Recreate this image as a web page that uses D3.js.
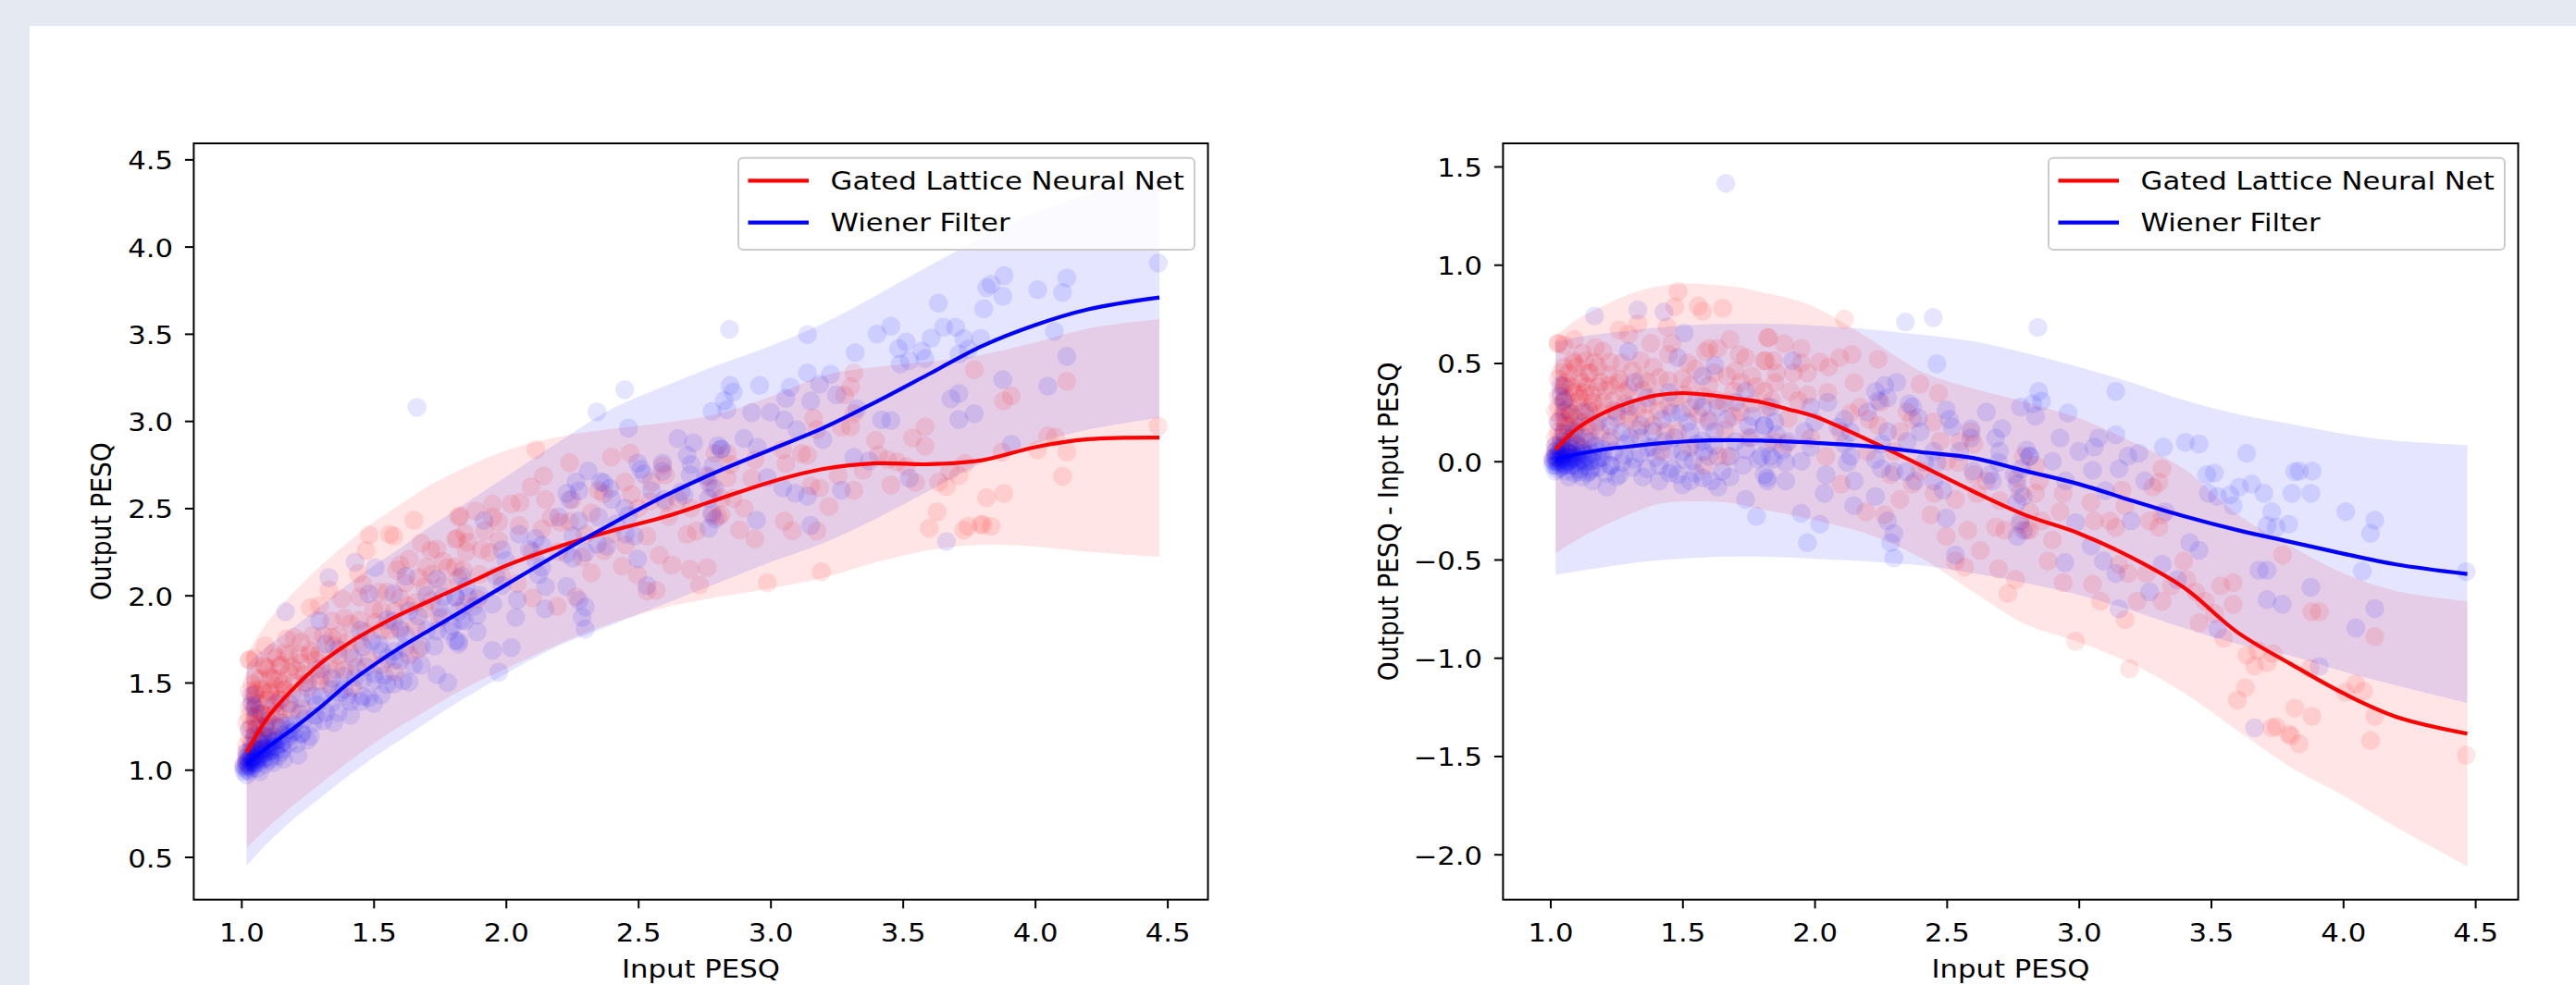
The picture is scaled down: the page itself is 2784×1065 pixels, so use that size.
<!DOCTYPE html>
<html>
<head>
<meta charset="utf-8">
<script src="https://cdn.jsdelivr.net/npm/d3@7"></script>
<style>
  html, body { margin: 0; padding: 0; overflow: hidden; background: #e5e9f2; }
  svg { display: block; }
</style>
</head>
<body>
<svg id="chart" width="2784" height="1065"></svg>
<script>
// GLNN vs Wiener filter, PESQ scatter with smoothed fits

// sample inputs where the fitted curves were read
const curve_x = [1.02, 1.1, 1.2, 1.3, 1.4, 1.5, 1.6, 1.7, 1.8, 1.9, 2.0, 2.2, 2.4, 2.6, 2.8, 3.0, 3.2, 3.4, 3.6, 3.8, 4.0, 4.2, 4.47];

// left panel: output PESQ fits
const glnn_out_mean = [1.10, 1.30, 1.47, 1.61, 1.72, 1.81, 1.89, 1.96, 2.03, 2.10, 2.17, 2.28, 2.37, 2.45, 2.55, 2.65, 2.725, 2.757, 2.752, 2.775, 2.85, 2.895, 2.905];
const glnn_out_lo = [0.55, 0.67, 0.80, 0.92, 1.04, 1.15, 1.25, 1.34, 1.43, 1.51, 1.58, 1.72, 1.84, 1.93, 1.99, 2.04, 2.10, 2.19, 2.26, 2.29, 2.28, 2.25, 2.22];
const glnn_out_hi = [1.66, 1.85, 2.02, 2.17, 2.30, 2.42, 2.52, 2.62, 2.70, 2.77, 2.83, 2.91, 2.955, 2.99, 3.04, 3.14, 3.26, 3.31, 3.34, 3.38, 3.45, 3.53, 3.584];
const wiener_out_mean = [1.03, 1.13, 1.24, 1.36, 1.49, 1.60, 1.70, 1.79, 1.88, 1.97, 2.06, 2.24, 2.41, 2.57, 2.71, 2.835, 2.96, 3.11, 3.27, 3.43, 3.55, 3.64, 3.708];
const wiener_out_lo = [0.45, 0.58, 0.72, 0.84, 0.96, 1.07, 1.17, 1.27, 1.37, 1.46, 1.55, 1.71, 1.83, 1.95, 2.07, 2.19, 2.30, 2.44, 2.60, 2.76, 2.87, 2.95, 3.018];
const wiener_out_hi = [1.60, 1.71, 1.82, 1.94, 2.06, 2.17, 2.27, 2.38, 2.48, 2.58, 2.68, 2.88, 3.07, 3.20, 3.32, 3.43, 3.56, 3.72, 3.89, 4.05, 4.19, 4.30, 4.40];

// right panel: output - input fits
const glnn_gain_mean = [0.06, 0.165, 0.245, 0.30, 0.335, 0.347, 0.337, 0.32, 0.30, 0.265, 0.228, 0.11, -0.02, -0.153, -0.275, -0.367, -0.49, -0.645, -0.87, -1.03, -1.18, -1.30, -1.386];
const glnn_gain_lo = [-0.469, -0.40, -0.33, -0.27, -0.22, -0.205, -0.205, -0.215, -0.245, -0.27, -0.30, -0.37, -0.49, -0.665, -0.83, -0.92, -1.03, -1.18, -1.37, -1.555, -1.70, -1.86, -2.061];
const glnn_gain_hi = [0.637, 0.72, 0.79, 0.85, 0.888, 0.904, 0.90, 0.888, 0.86, 0.83, 0.785, 0.63, 0.46, 0.37, 0.30, 0.22, 0.10, -0.04, -0.27, -0.43, -0.57, -0.66, -0.712];
const wiener_gain_mean = [0.01, 0.035, 0.06, 0.075, 0.09, 0.10, 0.106, 0.107, 0.105, 0.10, 0.094, 0.077, 0.047, 0.017, -0.05, -0.116, -0.20, -0.28, -0.35, -0.41, -0.47, -0.525, -0.574];
const wiener_gain_lo = [-0.579, -0.56, -0.54, -0.52, -0.505, -0.495, -0.488, -0.485, -0.485, -0.49, -0.497, -0.51, -0.53, -0.57, -0.62, -0.68, -0.76, -0.85, -0.93, -0.99, -1.07, -1.14, -1.23];
const wiener_gain_hi = [0.606, 0.63, 0.65, 0.665, 0.68, 0.69, 0.697, 0.70, 0.70, 0.697, 0.69, 0.672, 0.645, 0.61, 0.55, 0.48, 0.40, 0.31, 0.24, 0.19, 0.14, 0.105, 0.083];

// utterances: [input PESQ, output PESQ - input PESQ]
const glnn_points = [
  [1.02,0.05],[1.02,0.12],[1.03,0.2],[1.03,0.28],[1.04,0.35],[1.03,0.42],[1.05,0.15],[1.05,0.25],[1.06,0.32],[1.04,0.08],
  [1.06,0.05],[1.07,0.18],[1.07,0.27],[1.08,0.38],[1.08,0.1],[1.09,0.22],[1.1,0.3],[1.1,0.14],[1.11,0.42],[1.12,0.25],
  [1.12,0.06],[1.03,0.6],[1.05,0.48],[1.09,0.5],[1.13,0.35],[1.14,0.18],[1.15,0.45],[1.16,0.3],[1.02,0.02],[1.04,0.03],
  [1.06,0.12],[1.08,0.03],[1.1,0.08],[1.05,0.38],[1.07,0.45],[1.11,0.2],[1.13,0.12],[1.04,0.22],[1.06,0.2],[1.09,0.35],
  [1.01,0.02],[1.02,0.08],[1.03,0.15],[1.02,0.25],[1.04,0.12],[1.05,0.3],[1.06,0.18],[1.07,0.1],[1.08,0.24],[1.09,0.16],
  [1.03,0.33],[1.11,0.32],[1.12,0.4],[1.04,0.45],[1.06,0.4],[1.1,0.48],[1.13,0.2],[1.15,0.1],[1.17,0.18],[1.18,0.38],
  [1.483,0.864],[1.471,0.786],[1.576,0.763],[1.652,0.779],[1.261,0.668],[1.331,0.70],[1.442,0.684],[1.296,0.645],[1.051,0.59],[1.60,0.574],
  [1.634,0.574],[1.821,0.629],[1.167,0.504],[1.226,0.504],[1.342,0.512],[1.447,0.543],[1.587,0.558],[1.739,0.527],[1.809,0.512],[1.845,0.512],
  [1.086,0.512],[1.132,0.512],[1.144,0.449],[1.191,0.402],[1.261,0.417],[1.342,0.417],[1.412,0.425],[1.447,0.41],[1.529,0.386],[1.669,0.433],
  [1.763,0.433],[1.051,0.386],[1.109,0.339],[1.156,0.339],[1.167,0.292],[1.226,0.386],[1.296,0.37],[1.366,0.402],[1.506,0.339],[1.60,0.386],
  [1.693,0.355],[1.809,0.355],[1.074,0.245],[1.144,0.26],[1.191,0.245],[1.238,0.308],[1.284,0.292],[1.366,0.292],[1.482,0.15],[1.529,0.072],
  [1.634,0.025],[1.669,0.025],[1.716,0.543],[1.296,0.213],[1.389,0.182],[1.436,0.15],[1.60,0.213],[1.693,0.229],[1.763,0.292],[1.821,0.276],
  [1.03,0.6],[1.56,0.79],[1.2,0.56],[1.38,0.6],[1.55,0.47],[1.7,0.46],[1.25,0.22],[1.33,0.16],[1.56,0.24],[1.66,0.16],
  [1.75,0.12],[1.42,0.05],[1.58,-0.02],
  [1.12,0.55],[1.18,0.48],[1.22,0.44],[1.27,0.5],[1.31,0.46],[1.35,0.36],[1.4,0.33],[1.45,0.28],[1.5,0.42],[1.52,0.5],
  [1.62,0.45],[1.66,0.3],[1.72,0.4],[1.78,0.38],[1.85,0.4],[1.2,0.3],[1.24,0.26],[1.3,0.24],[1.36,0.22],[1.41,0.26],
  [1.47,0.32],[1.53,0.27],[1.58,0.33],[1.63,0.31],[1.72,0.25],[1.14,0.38],[1.19,0.15],[1.23,0.12],[1.28,0.35],[1.33,0.27],
  [1.15,0.25],[1.21,0.36],[1.26,0.4],[1.17,0.58],[1.09,0.62],[1.39,0.48],[1.46,0.6],[1.68,0.62],[1.9,0.22],[1.95,0.5],
  [2.113,0.723],[1.827,0.629],[1.885,0.598],[1.949,0.574],[1.815,0.512],[1.856,0.449],[1.92,0.449],[1.973,0.449],[2.02,0.504],[2.054,0.48],
  [2.095,0.527],[2.142,0.543],[2.241,0.519],[2.399,0.393],[2.469,0.346],[1.908,0.355],[1.838,0.308],[1.938,0.308],[1.973,0.339],[2.171,0.276],
  [2.206,0.213],[2.241,0.182],[2.136,0.245],[2.37,0.213],[2.475,0.103],[2.592,0.15],[2.603,0.088],[2.545,-0.006],[2.603,-0.069],[2.615,-0.163],
  [2.58,-0.351],[2.627,-0.453],[2.533,-0.508],[2.568,-0.539],[2.696,-0.547],[2.732,-0.673],[2.761,-0.602],[2.498,-0.382],[2.452,-0.163],[2.37,-0.116],
  [2.323,-0.194],[2.265,-0.273],[2.194,-0.257],[2.101,-0.116],[2.043,0.025],[1.985,0.119],[1.891,0.088],[1.844,0.103],[2.685,-0.335],[2.779,-0.32],
  [2.72,-0.351],[2.802,-0.351],[2.814,-0.257],[2.323,0.15],[2.288,-0.069],[2.533,-0.194],[2.44,-0.273],
  [2.05,0.35],[2.15,0.4],[2.25,0.3],[2.3,0.05],[2.35,0.25],[2.45,0.2],[2.5,0.0],[2.55,0.1],[2.65,-0.1],[2.7,-0.2],
  [2.85,-0.1],[2.9,-0.4],[2.2,0.05],[2.4,-0.05],[2.1,0.15],
  [3.315,-0.038],[3.28,-0.132],[3.303,-0.108],[2.79,0.025],[2.766,-0.085],[2.836,-0.022],[2.778,-0.163],[2.836,-0.163],[2.941,-0.163],[2.929,-0.257],
  [2.813,-0.351],[2.859,-0.304],[3.046,-0.21],[3.058,-0.304],[3.14,-0.336],[3.163,-0.147],[3.175,-0.226],[3.117,-0.304],[3.268,-0.304],[3.303,-0.336],
  [3.315,-0.273],[2.883,-0.508],[2.941,-0.618],[3.052,-0.626],[3.082,-0.712],[3.152,-0.524],[3.186,-0.571],[3.221,-0.712],[3.256,-0.571],[3.315,-0.712],
  [3.35,-0.634],[3.397,-0.508],[3.408,-0.602],[3.443,-0.665],[3.478,-0.712],[3.537,-0.634],[3.584,-0.618],[3.584,-0.728],[3.455,-0.822],[3.513,-0.775],
  [3.548,-0.901],[3.712,-1.026],[3.665,-1.041],[3.677,-0.963],[3.735,-0.979],[3.175,-0.806],[2.988,-0.916],[3.192,-1.057],[3.63,-1.152],[3.60,-1.215],
  [3.73,-1.356],[3.794,-1.387],[3.771,-0.477],[3.636,-0.986],
  [3.881,-0.766],[3.91,-0.766],[4.12,-0.892],[3.875,-1.054],[4.009,-1.175],[4.048,-1.133],[4.077,-1.17],[3.817,-1.256],[3.882,-1.298],[4.12,-1.298],
  [3.747,-1.351],[3.803,-1.398],[3.834,-1.438],[4.104,-1.421],[4.466,-1.496]
];

const wiener_points = [
  [1.01,0.0],[1.02,-0.02],[1.02,0.02],[1.03,0.0],[1.03,0.04],[1.03,-0.04],[1.04,0.01],[1.04,0.06],[1.05,-0.02],[1.05,0.03],
  [1.06,0.0],[1.06,0.05],[1.06,-0.05],[1.07,0.02],[1.07,0.08],[1.08,-0.02],[1.08,0.04],[1.09,0.01],[1.09,-0.06],[1.1,0.05],
  [1.1,0.0],[1.11,0.03],[1.11,-0.04],[1.12,0.07],[1.12,0.01],[1.13,-0.02],[1.13,0.04],[1.14,0.1],[1.15,0.0],[1.15,-0.05],
  [1.16,0.04],[1.17,0.08],[1.18,-0.03],[1.19,0.02],[1.2,0.06],[1.04,0.1],[1.02,0.08],[1.05,0.14],[1.08,0.12],[1.03,0.2],
  [1.06,0.26],[1.04,0.33],[1.1,0.18],[1.02,-0.05],[1.07,-0.08],[1.12,-0.08],[1.14,-0.06],[1.16,-0.1],[1.21,-0.06],[1.23,-0.02],
  [1.01,0.01],[1.02,0.0],[1.02,0.03],[1.03,0.02],[1.03,-0.01],[1.04,0.0],[1.04,0.03],[1.05,0.01],[1.05,-0.01],[1.06,0.02],
  [1.07,0.0],[1.07,0.04],[1.08,0.01],[1.09,0.03],[1.1,0.02],[1.11,0.0],[1.04,-0.03],[1.06,-0.02],[1.08,0.06],[1.12,0.04],
  [1.02,0.05],[1.05,0.07],[1.13,0.0],[1.14,0.03],[1.16,0.0],[1.18,0.05],[1.01,-0.02],[1.03,0.07],[1.09,-0.02],[1.1,0.09],
  [1.167,0.739],[1.331,0.77],[1.43,0.76],[1.506,0.653],[1.296,0.558],[1.482,0.527],[1.622,0.488],[1.576,0.433],[1.039,0.386],[1.739,0.355],
  [1.051,0.308],[1.459,0.245],[1.494,0.245],[1.634,0.276],[1.669,0.213],[1.763,0.229],[1.809,0.182],[1.226,0.182],[1.272,0.15],[1.342,0.182],
  [1.529,0.15],[1.576,0.103],[1.622,0.15],[1.389,0.072],[1.459,0.057],[1.506,0.009],[1.553,0.088],[1.60,0.025],[1.681,0.025],[1.739,0.057],
  [1.786,0.009],[1.833,0.025],[1.179,0.009],[1.226,-0.022],[1.272,-0.006],[1.319,0.009],[1.366,-0.038],[1.412,-0.022],[1.459,-0.038],[1.482,-0.069],
  [1.529,-0.10],[1.576,-0.085],[1.611,-0.10],[1.634,-0.132],[1.214,-0.132],[1.261,-0.069],[1.109,-0.053],[1.156,-0.038],[1.412,-0.10],[1.809,-0.069],
  [1.821,-0.10],[1.739,-0.194],[1.78,-0.28],[1.284,0.088],[1.342,0.119],[1.389,0.15],[1.424,0.213],[1.576,0.276],[1.553,0.308],[1.366,0.323],
  [1.319,0.402],[1.664,1.414],
  [1.2,0.02],[1.24,0.05],[1.28,0.03],[1.31,-0.03],[1.34,0.04],[1.37,0.07],[1.4,0.02],[1.43,0.1],[1.47,0.12],[1.5,0.05],
  [1.54,0.0],[1.58,0.05],[1.62,0.08],[1.65,-0.05],[1.7,0.1],[1.73,-0.02],[1.76,0.12],[1.22,0.1],[1.25,-0.08],[1.3,0.12],
  [1.35,-0.08],[1.45,-0.06],[1.5,-0.12],[1.55,-0.06],[1.6,0.2],[1.68,-0.08],[1.7,0.3],[1.75,0.18],[1.85,0.2],[1.9,0.1],
  [1.18,0.2],[1.13,0.25],[1.09,0.15],[1.15,0.12],[1.25,0.25],[1.3,0.28],[1.45,0.35],[1.52,0.2],[1.95,0.0],[2.0,0.2],
  [2.344,0.708],[2.449,0.731],[2.463,0.496],[1.917,0.512],[2.23,0.355],[2.265,0.386],[2.311,0.402],[2.241,0.308],[2.276,0.323],[2.358,0.292],
  [2.393,0.221],[2.37,0.276],[2.498,0.261],[2.51,0.213],[2.521,0.174],[2.592,0.166],[2.592,0.119],[2.709,0.166],[2.685,0.119],[2.779,0.276],
  [2.825,0.292],[2.113,0.213],[2.089,0.174],[2.136,0.15],[2.113,0.088],[2.136,0.025],[2.124,-0.006],[1.985,0.276],[1.962,0.15],[1.985,0.072],
  [1.833,0.276],[1.81,0.182],[1.856,0.135],[1.821,0.088],[1.798,0.025],[1.844,0.009],[1.879,0.057],[1.891,-0.006],[1.821,-0.085],[1.891,-0.10],
  [2.043,-0.069],[2.037,-0.163],[1.949,-0.265],[2.02,-0.32],[1.973,-0.414],[2.148,-0.226],[2.276,0.15],[2.253,0.088],[2.23,0.009],[2.253,-0.038],
  [2.30,-0.053],[2.346,-0.053],[2.381,-0.10],[2.416,-0.006],[2.463,-0.006],[2.452,-0.10],[2.486,-0.147],[2.23,-0.179],[2.276,-0.304],[2.30,-0.367],
  [2.288,-0.414],[2.30,-0.493],[2.498,-0.289],[2.533,-0.477],[2.662,-0.069],[2.696,-0.006],[2.673,-0.10],[2.755,-0.069],[2.79,-0.179],[2.79,-0.351],
  [2.767,-0.382],[2.802,0.057],[2.814,0.025],
  [2.05,0.3],[2.15,-0.1],[2.2,0.25],[2.35,0.1],[2.4,0.15],[2.45,0.05],[2.55,0.05],[2.6,-0.05],[2.65,0.25],[2.7,0.05],
  [2.9,0.0],[2.95,-0.1],[3.0,0.05],[3.1,-0.15],[3.25,-0.1],
  [2.845,0.681],[3.14,0.355],[2.848,0.355],[2.859,0.306],[2.836,0.229],[2.959,0.245],[2.929,0.119],[3.075,0.119],[3.14,0.135],[3.058,0.072],
  [3.32,0.072],[3.403,0.096],[3.455,0.088],[3.186,0.025],[3.227,0.041],[3.152,-0.038],[3.052,-0.046],[3.635,0.041],[3.484,-0.069],[3.513,-0.06],
  [3.817,-0.053],[3.607,-0.132],[3.654,-0.116],[3.70,-0.163],[3.572,-0.171],[3.525,-0.179],[3.49,-0.163],[3.584,-0.226],[3.73,-0.257],[3.806,-0.163],
  [3.794,-0.32],[3.712,-0.328],[2.813,0.025],[2.783,-0.038],[2.766,-0.116],[3.327,-0.257],[3.198,-0.304],[2.988,-0.312],[3.42,-0.414],[3.455,-0.453],
  [3.046,-0.43],[3.093,-0.508],[3.14,-0.571],[2.947,-0.516],[3.315,-0.524],[3.373,-0.602],[3.268,-0.665],[3.152,-0.751],[3.525,-0.853],[3.682,-0.555],
  [3.712,-0.555],[3.712,-0.704],[3.77,-0.728],[3.665,-1.356],[2.766,-0.21],[2.778,-0.304],
  [3.834,-0.05],[3.883,-0.05],[3.878,-0.163],[3.747,-0.336],[4.01,-0.257],[4.12,-0.30],[4.104,-0.367],[4.073,-0.559],[4.466,-0.561],[3.878,-0.641],
  [4.12,-0.75],[4.048,-0.848],[3.91,-1.045]
];

const x_ticks = [1.0, 1.5, 2.0, 2.5, 3.0, 3.5, 4.0, 4.5];
const out_ticks = [0.5, 1.0, 1.5, 2.0, 2.5, 3.0, 3.5, 4.0, 4.5];
const gain_ticks = [-2.0, -1.5, -1.0, -0.5, 0.0, 0.5, 1.0, 1.5];
const method_names = ["Gated Lattice Neural Net", "Wiener Filter"];
const method_colors = ["#ff0000", "#0000ff"];

const w = 2784, h = 1065;
const plot_top = 155, plot_bottom = 972.7;
const font_px = 26.5;
const stretch = 1.16;   // text in the reference is drawn wider than it is tall
const fmt = d3.format(".1f");

const svg = d3.select("#chart");
const defs = svg.append("defs");

svg.append("rect").attr("width", w).attr("height", h).attr("fill", "#e5e9f2");
svg.append("rect").attr("x", 32).attr("y", 28).attr("width", w).attr("height", h).attr("fill", "#ffffff");

function fit_rows(mean, lo, hi) {
  return curve_x.map((x, i) => ({ x, mean: mean[i], lo: lo[i], hi: hi[i] }));
}

const panels = [
  {
    x0: 209.4, x1: 1305.5, x_dom: [0.8202, 4.6535], y_dom: [0.255, 4.592],
    y_ticks: out_ticks, y_label: "Output PESQ", y_label_x: 120,
    value: d => d[0] + d[1],
    fits: [fit_rows(glnn_out_mean, glnn_out_lo, glnn_out_hi), fit_rows(wiener_out_mean, wiener_out_lo, wiener_out_hi)]
  },
  {
    x0: 1624.4, x1: 2721.5, x_dom: [0.8211, 4.6625], y_dom: [-2.2306, 1.6176],
    y_ticks: gain_ticks, y_label: "Output PESQ - Input PESQ", y_label_x: 1511,
    value: d => d[1],
    fits: [fit_rows(glnn_gain_mean, glnn_gain_lo, glnn_gain_hi), fit_rows(wiener_gain_mean, wiener_gain_lo, wiener_gain_hi)]
  }
];

const point_sets = [glnn_points, wiener_points];

function style_axis(g) {
  g.attr("font-family", "DejaVu Sans").attr("font-size", font_px);
  g.select(".domain").remove();
  g.selectAll(".tick line").attr("stroke", "#000").attr("stroke-width", 2);
  g.selectAll(".tick text").attr("fill", "#000");
}

panels.forEach((p, idx) => {
  const x = d3.scaleLinear().domain(p.x_dom).range([p.x0, p.x1]);
  const y = d3.scaleLinear().domain(p.y_dom).range([plot_bottom, plot_top]);

  const clip_id = "plot-clip-" + idx;
  defs.append("clipPath").attr("id", clip_id)
    .append("rect")
    .attr("x", p.x0).attr("y", plot_top)
    .attr("width", p.x1 - p.x0).attr("height", plot_bottom - plot_top);

  const plot = svg.append("g").attr("clip-path", `url(#${clip_id})`);

  const area = d3.area()
    .x(d => x(d.x)).y0(d => y(d.lo)).y1(d => y(d.hi))
    .curve(d3.curveCatmullRom.alpha(0.5));
  const line = d3.line()
    .x(d => x(d.x)).y(d => y(d.mean))
    .curve(d3.curveCatmullRom.alpha(0.5));

  // uncertainty bands
  p.fits.forEach((rows, k) => {
    plot.append("path")
      .datum(rows)
      .attr("d", area)
      .attr("fill", method_colors[k])
      .attr("fill-opacity", 0.1);
  });

  // scatter
  point_sets.forEach((pts, k) => {
    plot.append("g").selectAll("circle")
      .data(pts)
      .join("circle")
      .attr("cx", d => x(d[0]))
      .attr("cy", d => y(p.value(d)))
      .attr("r", 10.3)
      .attr("fill", method_colors[k])
      .attr("fill-opacity", 0.1);
  });

  // fitted means
  p.fits.forEach((rows, k) => {
    plot.append("path")
      .datum(rows)
      .attr("d", line)
      .attr("fill", "none")
      .attr("stroke", method_colors[k])
      .attr("stroke-width", 4.2);
  });

  // frame
  svg.append("rect")
    .attr("x", p.x0).attr("y", plot_top)
    .attr("width", p.x1 - p.x0).attr("height", plot_bottom - plot_top)
    .attr("fill", "none").attr("stroke", "#000").attr("stroke-width", 2);

  // x axis
  const gx = svg.append("g")
    .attr("transform", `translate(0,${plot_bottom})`)
    .call(d3.axisBottom(x).tickValues(x_ticks).tickFormat(fmt).tickSize(9.5).tickSizeOuter(0));
  style_axis(gx);
  gx.selectAll(".tick text")
    .attr("y", 0).attr("dy", null)
    .attr("transform", `translate(0,45) scale(${stretch},1)`);

  // y axis
  const gy = svg.append("g")
    .attr("transform", `translate(${p.x0},0)`)
    .call(d3.axisLeft(y).tickValues(p.y_ticks).tickFormat(fmt).tickSize(9.5).tickSizeOuter(0));
  style_axis(gy);
  gy.selectAll(".tick text")
    .attr("x", 0).attr("dy", null)
    .attr("transform", `translate(-22.3,10.5) scale(${stretch},1)`);

  // axis titles
  svg.append("text")
    .attr("transform", `translate(${(p.x0 + p.x1) / 2},1057) scale(${stretch},1)`)
    .attr("text-anchor", "middle")
    .attr("font-family", "DejaVu Sans").attr("font-size", font_px)
    .text("Input PESQ");

  svg.append("text")
    .attr("transform", `translate(${p.y_label_x},${(plot_top + plot_bottom) / 2}) scale(${stretch},1) rotate(-90)`)
    .attr("text-anchor", "middle")
    .attr("font-family", "DejaVu Sans").attr("font-size", font_px)
    .text(p.y_label);

  // legend
  const lw = 493, lh = 99.3;
  const lx = p.x1 - 14.5 - lw, ly = 170.7;
  const legend = svg.append("g");
  legend.append("rect")
    .attr("x", lx).attr("y", ly).attr("width", lw).attr("height", lh)
    .attr("rx", 5).attr("ry", 5)
    .attr("fill", "#fff").attr("fill-opacity", 0.8)
    .attr("stroke", "#cccccc").attr("stroke-width", 2);
  method_names.forEach((name, k) => {
    const yy = ly + 24.6 + k * 45.4;
    legend.append("line")
      .attr("x1", lx + 10.5).attr("x2", lx + 76)
      .attr("y1", yy).attr("y2", yy)
      .attr("stroke", method_colors[k]).attr("stroke-width", 4.2);
    legend.append("text")
      .attr("transform", `translate(${lx + 99.6},${yy + 9.6}) scale(${stretch},1)`)
      .attr("font-family", "DejaVu Sans").attr("font-size", font_px)
      .text(name);
  });
});
</script>
</body>
</html>
